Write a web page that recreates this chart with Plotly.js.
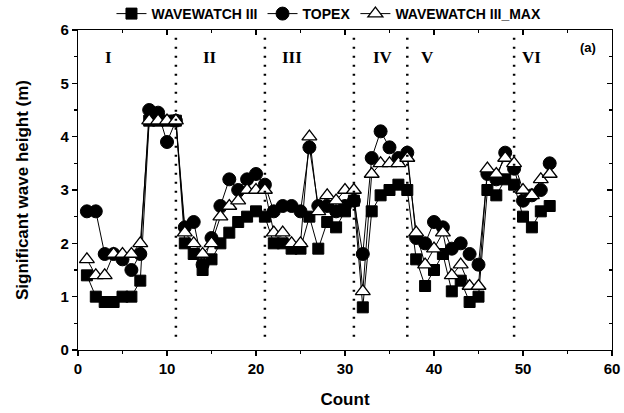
<!DOCTYPE html>
<html>
<head>
<meta charset="utf-8">
<script src="https://cdn.plot.ly/plotly-3.0.1.min.js"></script>
<style>html,body{margin:0;padding:0;background:#fff;}#chart{width:624px;height:413px;}</style>
</head>
<body>
<div id="chart"></div>
<script>
const count = [1,2,3,4,5,6,7,8,9,10,11,12,13,14,15,16,17,18,19,20,21,22,23,24,25,26,27,28,29,30,31,32,33,34,35,36,37,38,39,40,41,42,43,44,45,46,47,48,49,50,51,52,53];
const wavewatch3 = [1.4,1.0,0.9,0.9,1.0,1.0,1.3,4.3,4.3,4.3,4.3,2.0,1.8,1.5,1.7,2.0,2.2,2.4,2.5,2.6,2.5,2.0,2.0,1.9,1.9,2.5,1.9,2.4,2.3,2.6,2.8,0.8,2.6,2.9,3.0,3.1,3.0,1.7,1.2,1.5,1.8,1.1,1.3,0.9,1.0,3.0,2.9,3.2,3.1,2.5,2.3,2.6,2.7];
const topex = [2.6,2.6,1.8,1.8,1.7,1.5,1.8,4.5,4.45,3.9,4.3,2.3,2.4,1.6,2.1,2.7,3.2,3.0,3.2,3.3,3.1,2.6,2.7,2.7,2.6,3.8,2.7,2.7,2.6,2.7,2.8,1.8,3.6,4.1,3.8,3.6,3.7,2.1,2.0,2.4,2.3,1.9,2.0,1.8,1.6,3.3,3.2,3.7,3.4,2.8,2.9,3.0,3.5];
const wavewatch3Max = [1.7,1.4,1.4,1.8,1.8,1.8,2.0,4.3,4.3,4.3,4.3,2.2,2.0,1.8,2.0,2.5,2.7,2.8,3.0,3.0,3.0,2.2,2.2,2.0,2.0,4.0,2.6,2.9,2.8,3.0,3.0,1.1,3.3,3.5,3.5,3.5,3.6,2.2,1.6,1.9,2.2,1.4,1.6,1.2,1.2,3.4,3.3,3.6,3.5,3.0,2.9,3.2,3.3];
const seriesNames = ["WAVEWATCH III", "TOPEX", "WAVEWATCH III_MAX"];
const dividers = [11, 21, 31, 37, 49];
const regionLabels = ["I", "II", "III", "IV", "V", "VI"];
const regionX = [3.4, 14.8, 24.0, 34.3, 39.3, 51.0];
const regionY = 5.48;
const panelLabel = "(a)";

const fontFam = "Liberation Sans, Arial, sans-serif";
const lineStyle = {color: "#000", width: 1};

const traces = [
  {x: count, y: wavewatch3, name: seriesNames[0], mode: "lines+markers", line: lineStyle,
   marker: {symbol: "square", size: 11, color: "#000", line: {color: "#000", width: 1}}},
  {x: count, y: topex, name: seriesNames[1], mode: "lines+markers", line: lineStyle,
   marker: {symbol: "circle", size: 13, color: "#000", line: {color: "#000", width: 1}}},
  {x: count, y: wavewatch3Max, name: seriesNames[2], mode: "lines+markers", line: lineStyle,
   marker: {symbol: "triangle-up", size: 13, color: "#fff", line: {color: "#000", width: 1.3}}},
  {x: [], y: [], xaxis: "x2", yaxis: "y2", showlegend: false, hoverinfo: "skip", mode: "markers"}
];

const shapes = dividers.map(d => ({
  type: "line", xref: "x", yref: "y", x0: d, x1: d, y0: 0.25, y1: 5.9,
  line: {color: "#000", width: 2.5, dash: "2px,7px"}
}));

const annotations = regionLabels.map((t, i) => ({
  x: regionX[i], y: regionY, xref: "x", yref: "y", text: t, showarrow: false,
  font: {family: "Liberation Serif, Times New Roman, serif", size: 17, color: "#000", weight: "bold"}
}));
annotations.push({x: 57.3, y: 5.67, xref: "x", yref: "y", text: panelLabel, showarrow: false,
  font: {family: fontFam, size: 13, color: "#000", weight: "bold"}});

const axCommon = {
  showgrid: false, zeroline: false, showline: true, linecolor: "#000", linewidth: 1.2,
  tickcolor: "#000", tickwidth: 1.2
};

const layout = {
  width: 624, height: 413,
  margin: {l: 78, r: 12, t: 30, b: 63, autoexpand: false},
  paper_bgcolor: "#fff", plot_bgcolor: "#fff",
  showlegend: true,
  legend: {orientation: "h", x: 0.47, xanchor: "center", y: 1.05, yanchor: "middle",
    font: {family: fontFam, size: 14, color: "#000", weight: "bold"}, itemwidth: 30,
    bgcolor: "rgba(0,0,0,0)", tracegroupgap: 0},
  xaxis: Object.assign({}, axCommon, {
    range: [0, 60], dtick: 10, tick0: 0, ticks: "outside", ticklen: 5, mirror: true,
    minor: {dtick: 5, ticks: "outside", ticklen: 3, tickcolor: "#000", tickwidth: 1.2},
    tickfont: {family: fontFam, size: 15, color: "#000", weight: "bold"},
    title: {text: "Count", font: {family: fontFam, size: 17, color: "#000", weight: "bold"}, standoff: 16}
  }),
  yaxis: Object.assign({}, axCommon, {
    range: [0, 6], dtick: 1, tick0: 0, ticks: "outside", ticklen: 5, mirror: true,
    minor: {dtick: 0.5, ticks: "outside", ticklen: 3, tickcolor: "#000", tickwidth: 1.2},
    tickfont: {family: fontFam, size: 15, color: "#000", weight: "bold"},
    title: {text: "Significant wave height (m)", font: {family: fontFam, size: 17, color: "#000", weight: "bold"}, standoff: 27}
  }),
  xaxis2: Object.assign({}, axCommon, {
    overlaying: "x", side: "top", anchor: "y2", range: [0, 60], dtick: 10, tick0: 0,
    ticks: "inside", ticklen: 5, showticklabels: false,
    minor: {dtick: 5, ticks: "inside", ticklen: 3, tickcolor: "#000", tickwidth: 1.2}
  }),
  yaxis2: Object.assign({}, axCommon, {
    overlaying: "y", side: "right", anchor: "x2", range: [0, 6], dtick: 1, tick0: 0,
    ticks: "inside", ticklen: 5, showticklabels: false,
    minor: {dtick: 0.5, ticks: "inside", ticklen: 3, tickcolor: "#000", tickwidth: 1.2}
  }),
  shapes: shapes,
  annotations: annotations
};

Plotly.newPlot("chart", traces, layout, {displayModeBar: false, staticPlot: true});
</script>
</body>
</html>
